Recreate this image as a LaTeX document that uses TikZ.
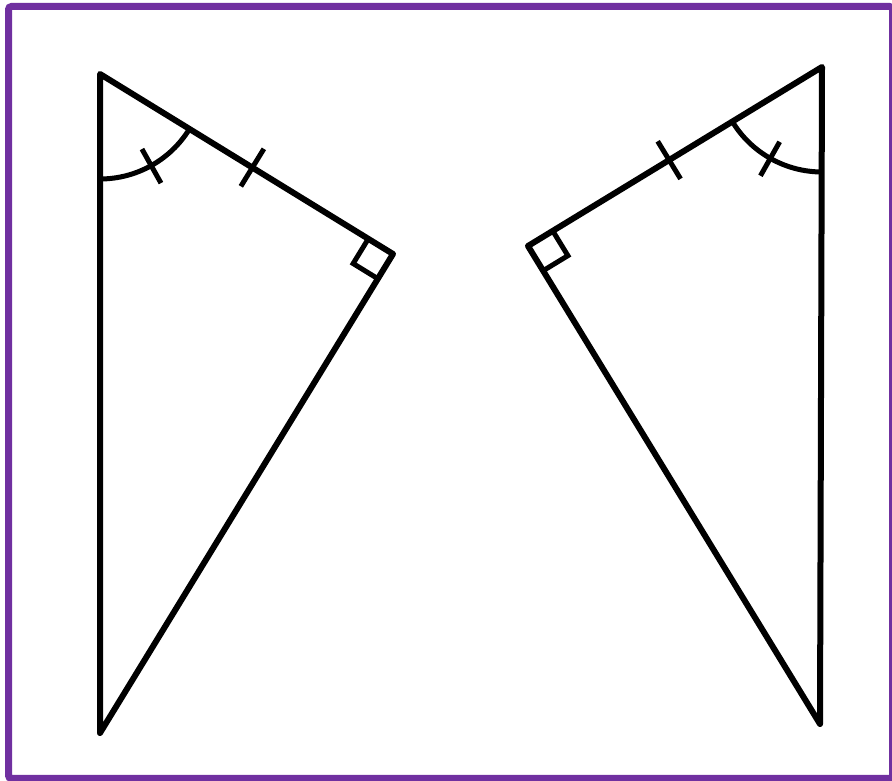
\documentclass[tikz,border=0pt]{standalone}
\usetikzlibrary{calc,angles}
\definecolor{borderpurple}{RGB}{112,48,160}
\begin{document}
\begin{tikzpicture}[x=1pt,y=1pt,
  tri/.style={line width=6pt,line join=round},
  markline/.style={line width=5pt},
  frame/.style={draw=borderpurple,line width=7pt,rounded corners=3pt}]
\useasboundingbox (0,0) rectangle (892,781);
\fill[white] (0,0) rectangle (892,781);
\draw[frame] (8.5,2.5) rectangle (892.5,774.5);
% left triangle
\coordinate (A) at (100,707);
\coordinate (B) at (393,527);
\coordinate (C) at (100,48);
\draw[tri] (A) -- (B) -- (C) -- cycle;
\pic[draw,markline,angle radius=105pt] {angle = C--A--B};
\draw[markline] ($(A)+(-60.8:86)$) -- ($(A)+(-60.8:125)$);
\coordinate (M1) at ($(A)!0.52!(B)$);
\draw[markline] ($(M1)!22pt!90:(B)$) -- ($(M1)!22pt!-90:(B)$);
\draw[markline] ($(B)!29pt!(A)$) -- ($(B)!29pt!(A)+(B)!29pt!(C)-(B)$) -- ($(B)!29pt!(C)$);
% right triangle
\coordinate (D) at (822,714);
\coordinate (E) at (528,535);
\coordinate (F) at (820,57);
\draw[tri] (D) -- (E) -- (F) -- cycle;
\pic[draw,markline,angle radius=105pt] {angle = E--D--F};
\draw[markline] ($(D)+(-119.5:86)$) -- ($(D)+(-119.5:125)$);
\coordinate (M2) at ($(D)!0.52!(E)$);
\draw[markline] ($(M2)!22pt!90:(E)$) -- ($(M2)!22pt!-90:(E)$);
\draw[markline] ($(E)!29pt!(D)$) -- ($(E)!29pt!(D)+(E)!29pt!(F)-(E)$) -- ($(E)!29pt!(F)$);
\end{tikzpicture}
\end{document}
